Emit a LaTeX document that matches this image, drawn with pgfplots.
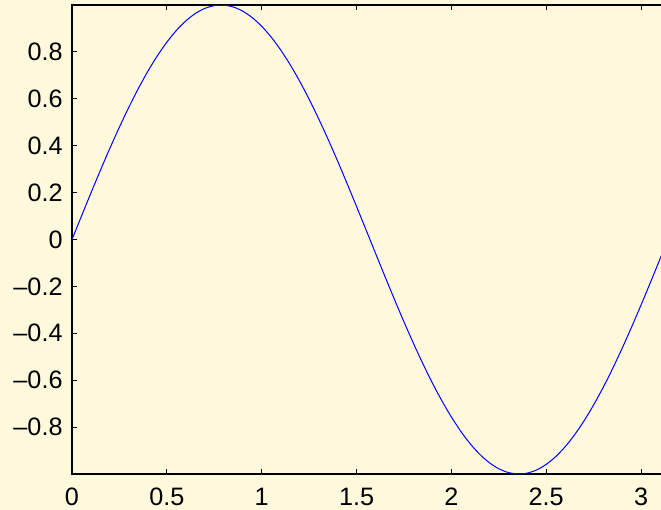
\documentclass[border=0pt]{standalone}
\usepackage{pgfplots}
\pgfplotsset{compat=1.18}
\usepackage{fontspec}
\setmainfont{Liberation Sans}
\definecolor{bg}{RGB}{254,248,221}
\begin{document}
\begin{tikzpicture}
\fill[bg] (-36pt,-18pt) rectangle (294.5pt,237pt);
\begin{axis}[
  at={(0,0)}, anchor=south west,
  scale only axis, width=297.95pt, height=234.5pt,
  xmin=0, xmax=3.14159, ymin=-1, ymax=1,
  axis background/.style={fill=bg},
  axis line style={line width=0.55pt},
  tick style={black, line width=0.5pt},
  tick align=inside, major tick length=2.5pt,
  xtick={0,0.5,1,1.5,2,2.5,3},
  xticklabels={0,0.5,1,1.5,2,2.5,3},
  ytick={-0.8,-0.6,-0.4,-0.2,0,0.2,0.4,0.6,0.8},
  yticklabels={--0.8,--0.6,--0.4,--0.2,0,0.2,0.4,0.6,0.8},
  ticklabel style={font=\fontsize{12.6}{15}\selectfont},
  xticklabel style={yshift=-3.3pt},
  yticklabel style={xshift=-1.2pt},
  /pgf/number format/assume math mode=true,
]
\addplot[blue, line width=0.5pt, smooth] coordinates {
(0,0) (0.05,0.0998) (0.1,0.1987) (0.15,0.2955) (0.2,0.3894) (0.25,0.4794)
(0.3,0.5646) (0.35,0.6442) (0.4,0.7174) (0.45,0.7833) (0.5,0.8415)
(0.55,0.8912) (0.6,0.9320) (0.65,0.9636) (0.7,0.9854) (0.75,0.9975)
(0.7854,1.0) (0.8,0.9996) (0.85,0.9917) (0.9,0.9738) (0.95,0.9463) (1.0,0.9093)
(1.05,0.8632) (1.1,0.8085) (1.15,0.7457) (1.2,0.6755) (1.25,0.5985)
(1.3,0.5155) (1.35,0.4274) (1.4,0.3350) (1.45,0.2392) (1.5,0.1411)
(1.55,0.0416) (1.6,-0.0584) (1.65,-0.1577) (1.7,-0.2555) (1.75,-0.3508)
(1.8,-0.4425) (1.85,-0.5298) (1.9,-0.6119) (1.95,-0.6878) (2.0,-0.7568)
(2.05,-0.8183) (2.1,-0.8716) (2.15,-0.9162) (2.2,-0.9516) (2.25,-0.9775)
(2.3,-0.9937) (2.35,-0.9999) (2.3562,-1.0) (2.4,-0.9962) (2.45,-0.9825) (2.5,-0.9589)
(2.55,-0.9258) (2.6,-0.8835) (2.65,-0.8323) (2.7,-0.7728) (2.75,-0.7055)
(2.8,-0.6313) (2.85,-0.5507) (2.9,-0.4646) (2.95,-0.3739) (3.0,-0.2794)
(3.05,-0.1822) (3.1,-0.0831) (3.14159,0.0)
};
\end{axis}
\pgfresetboundingbox
\useasboundingbox (-36pt,-18pt) rectangle (294.5pt,237pt);
\end{tikzpicture}
\end{document}
